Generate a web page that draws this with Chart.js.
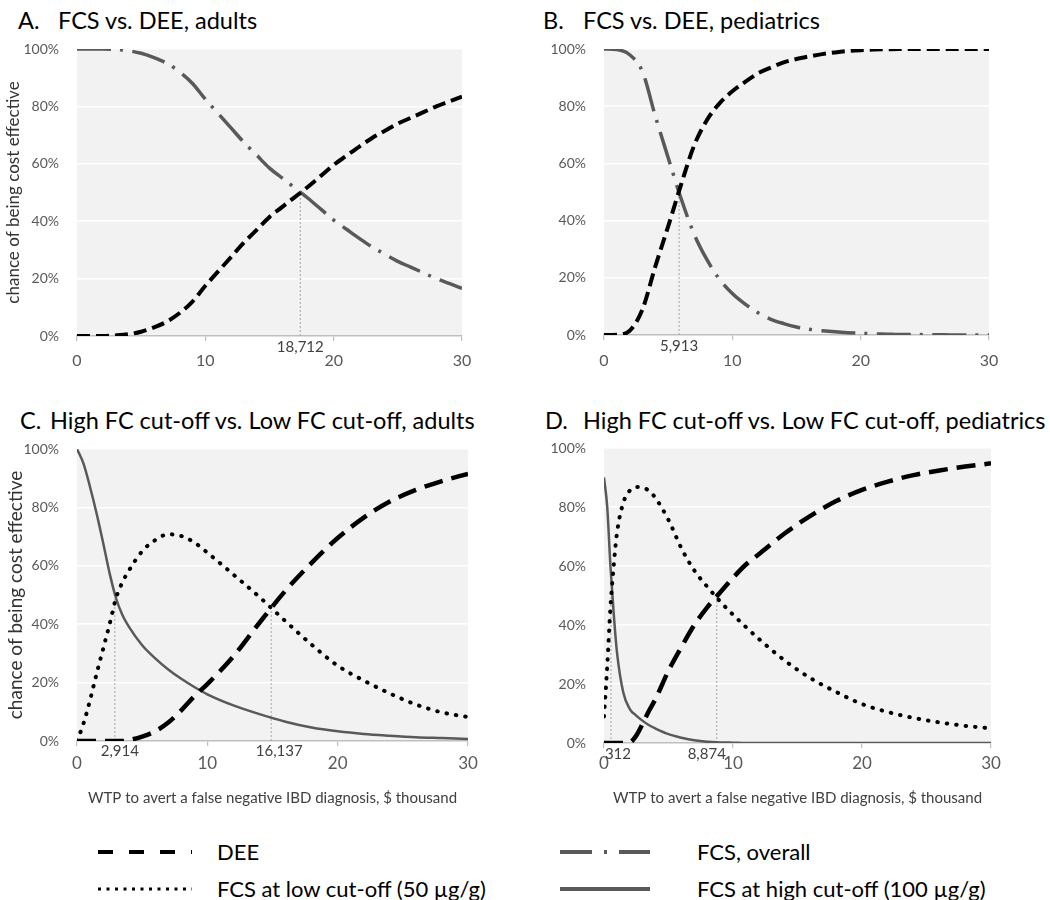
<!DOCTYPE html>
<html><head><meta charset="utf-8">
<script src="https://cdn.jsdelivr.net/npm/chart.js@4.4.1/dist/chart.umd.min.js"></script>
<style>
body{margin:0;background:#fff;width:1050px;height:900px;position:relative;overflow:hidden;font-family:Lato,'Open Sans',sans-serif;}
canvas{position:absolute;}
.t{position:absolute;font-size:23.5px;color:#000;white-space:nowrap;line-height:26px;}
.lg{position:absolute;font-size:22px;color:#000;white-space:nowrap;line-height:24px;}
svg{position:absolute;}
</style></head><body>
<div class="t" style="left:18px;top:7px">A.</div><div class="t" style="left:58px;top:7px">FCS vs. DEE, adults</div>
<div class="t" style="left:543px;top:7px">B.</div><div class="t" style="left:583px;top:7px">FCS vs. DEE, pediatrics</div>
<div class="t" style="left:20px;top:407px">C.</div><div class="t" style="left:50px;top:407px">High FC cut-off vs. Low FC cut-off, adults</div>
<div class="t" style="left:545px;top:407px">D.</div><div class="t" style="left:583px;top:407px">High FC cut-off vs. Low FC cut-off, pediatrics</div>
<canvas id="cA" width="525" height="380" style="left:0;top:0"></canvas>
<canvas id="cB" width="525" height="380" style="left:525px;top:0"></canvas>
<canvas id="cC" width="525" height="420" style="left:0;top:400px"></canvas>
<canvas id="cD" width="525" height="420" style="left:525px;top:400px"></canvas>
<svg style="left:95px;top:842px" width="100" height="60">
 <line x1="3" y1="10" x2="97" y2="10" stroke="#000" stroke-width="4" stroke-dasharray="15 16"/>
 <line x1="3" y1="47" x2="97" y2="47" stroke="#000" stroke-width="3" stroke-dasharray="3 5.5"/>
</svg>
<svg style="left:558px;top:842px" width="100" height="60">
 <line x1="2" y1="10" x2="92" y2="10" stroke="#595959" stroke-width="4" stroke-dasharray="32 12 3 12"/>
 <line x1="2" y1="47" x2="92" y2="47" stroke="#595959" stroke-width="4"/>
</svg>
<div class="lg" style="left:217px;top:840px">DEE</div>
<div class="lg" style="left:217px;top:877px">FCS at low cut-off (50 µg/g)</div>
<div class="lg" style="left:697px;top:840px">FCS, overall</div>
<div class="lg" style="left:697px;top:877px">FCS at high cut-off (100 µg/g)</div>
<script>
// ---- data ----
const xTicks = [0, 10, 20, 30];
const yTicks = [0, 20, 40, 60, 80, 100];

const xA = [0,1,2,3,4,5,6,7,8,9,10,11,12,13,14,15,16,17,18,19,20,21,22,23,24,25,26,27,28,29,30];
const deeA = [0,0,0,0.2,0.6,1.5,3,5,8,12,17.5,22.5,27.5,32.5,37,41.5,45,48.5,52,55.8,59.6,62.8,66,69,71.5,74,76,78,80,81.7,83.4];
const fcsA = [100,100,100,99.8,99.4,98.5,97,95,92,88,82.5,77.5,72.5,67.5,63,58.5,55,51.5,48,44.2,40.4,37.2,34,31,28.5,26,24,22,20,18.3,16.6];

const xB = [0,1,2,3,4,5,6,7,8,9,10,11,12,13,14,15,16,17,18,19,20,21,22,23,24,25,26,27,28,29,30];
const deeB = [0,0.1,1.5,9,24,38,52.5,66,75,81,85.2,88.5,91.5,93.5,95.3,96.5,97.4,98.2,98.8,99.3,99.6,99.8,99.9,100,100,100,100,100,100,100,100];
const fcsB = [100,99.8,98,92,76.5,62,47.8,35.5,26.5,19.5,14.5,10.8,7.8,5.5,4,2.8,2,1.5,1.1,0.8,0.6,0.4,0.3,0.2,0.2,0.1,0.1,0,0,0,0];

const xC = [0,0.5,1,1.5,2,2.5,3,3.5,4,5,6,7,8,9,10,12,14,16,18,20,22,24,26,28,30];
const deeC = [0,0,0,0,0,0,0,0,0.3,1.5,3.3,6.3,10.5,15.3,19.5,29,40.5,51.5,61,69.5,76.5,82,86,89,91.5];
const lowC = [0,6,14,23,31.5,40,49,54.5,58.5,65,68.8,70.8,70.2,68,64.5,57,49.3,41,33,25.8,20.7,16.3,12.5,9.8,8.2];
const highC = [100,95,87,78,68,57.5,48.8,43,39,32.8,28.3,24.5,21.3,18.5,16,12.2,9.2,6.6,4.6,3.3,2.4,1.8,1.3,1,0.7];

const xD = [0,0.25,0.5,0.75,1,1.5,2,2.5,3,3.5,4,5,6,7,8,9,10,11,12,14,16,18,20,22,24,26,28,30];
const deeD = [0,0,0,0,0,0,0.2,2.5,6.6,11,15,24.5,32.5,40,46,51,56,60.5,64,71,77,82,85.8,88.6,90.8,92.4,93.7,94.8];
const lowD = [9,26,46,60,71,81.5,85.6,86.8,86.5,85.5,83,75.6,66,58.5,53,48,43.5,39.3,35.3,28,22,17.3,13.2,10.5,8.5,7,5.8,5];
const highD = [90,80,60,44,31,17,11.5,9.3,7.5,6,4.9,3,1.8,0.9,0.4,0.2,0.1,0,0,0,0,0,0,0,0,0,0,0];

// threshold (crossing) markers
const crossXA = [17.4], crossYA = [50], crossLabA = ['18,712'];
const crossXB = [5.85], crossYB = [51.5], crossLabB = ['5,913'];
const crossXC = [2.9, 14.9], crossYC = [49.4, 46], crossLabC = ['2,914', '16,137'];
const crossXD = [0.54, 8.74], crossYD = [50, 49.5], crossLabD = ['312', '8,874'];

// ---- styles ----
const FONT = "Lato, 'Open Sans', sans-serif";
const pts = (xs, ys) => xs.map((x, i) => ({x, y: ys[i]}));

function dee(xs, ys, dash, w) {
  return {label: 'DEE', data: pts(xs, ys), borderColor: '#000', borderWidth: w, borderDash: dash,
    borderCapStyle: 'butt', pointRadius: 0, cubicInterpolationMode: 'monotone', order: 1};
}
function fcsAll(xs, ys) {
  return {label: 'FCS, overall', data: pts(xs, ys), borderColor: '#595959', borderWidth: 3.5,
    borderDash: [34, 9, 3, 9.5], borderCapStyle: 'butt', pointRadius: 0, cubicInterpolationMode: 'monotone', order: 2};
}
function low(xs, ys) {
  return {label: 'FCS at low cut-off (50 µg/g)', data: pts(xs, ys), borderColor: '#000', borderWidth: 4,
    borderDash: [0.5, 9], borderCapStyle: 'round', pointRadius: 0, cubicInterpolationMode: 'monotone', order: 2};
}
function high(xs, ys) {
  return {label: 'FCS at high cut-off (100 µg/g)', data: pts(xs, ys), borderColor: '#595959', borderWidth: 2.5,
    pointRadius: 0, cubicInterpolationMode: 'monotone', order: 3};
}
function refLines(cx, cy) {
  return cx.map((x, i) => ({label: 'ref', data: [{x, y: 0}, {x, y: cy[i]}], borderColor: '#a6a6a6',
    borderWidth: 1, borderDash: [2, 2], pointRadius: 0, order: 5}));
}

const bgPlugin = {
  id: 'bg',
  beforeDraw(chart) {
    const {ctx, chartArea: a} = chart;
    ctx.save(); ctx.fillStyle = '#f2f2f2';
    ctx.fillRect(a.left, a.top, a.right - a.left, a.bottom - a.top);
    ctx.restore();
  }
};
const crossLabelPlugin = {
  id: 'crossLabels',
  afterDraw(chart, args, opts) {
    const {ctx, chartArea: a, scales: {x}} = chart;
    ctx.save();
    ctx.font = '15px ' + FONT; ctx.fillStyle = '#404040';
    ctx.textAlign = 'center'; ctx.textBaseline = 'middle';
    opts.xs.forEach((v, i) => ctx.fillText(opts.labels[i], x.getPixelForValue(v) + (opts.dx ? opts.dx[i] : 0), a.bottom + opts.dy));
    ctx.restore();
  }
};

function makeChart(id, datasets, cfg) {
  return new Chart(document.getElementById(id), {
    type: 'line',
    data: {datasets},
    plugins: [bgPlugin, crossLabelPlugin],
    options: {
      responsive: false, animation: false, devicePixelRatio: 1,
      layout: {padding: {left: 0, right: cfg.right, top: cfg.top, bottom: 0}},
      plugins: {legend: {display: false}, tooltip: {enabled: false}, title: {display: false},
        crossLabels: {xs: cfg.cx, labels: cfg.cl, dy: cfg.ldy, dx: cfg.ldx}},
      scales: {
        x: {
          type: 'linear', min: 0, max: 30,
          afterBuildTicks: s => { s.ticks = xTicks.map(v => ({value: v})); },
          afterFit: s => { s.height = cfg.xh; },
          grid: {drawOnChartArea: false, drawTicks: true, tickLength: 5, color: '#bfbfbf', lineWidth: 1.2},
          border: {display: true, color: '#bfbfbf', width: 1.5},
          ticks: {padding: cfg.xpad, color: '#595959', font: {family: FONT, size: cfg.xfs}, maxRotation: 0},
          title: {display: !!cfg.xtitle, text: cfg.xtitle || '', color: '#404040',
            font: {family: FONT, size: 15}, padding: {top: 0, bottom: cfg.xtpad || 0}}
        },
        y: {
          min: 0, max: 100,
          afterBuildTicks: s => { s.ticks = yTicks.map(v => ({value: v})); },
          afterFit: s => { s.width = cfg.yw; },
          grid: {drawTicks: false, color: c => (c.tick && c.tick.value === 0) ? 'rgba(0,0,0,0)' : '#ffffff', lineWidth: 1.5},
          border: {display: false},
          ticks: {padding: 18, color: '#595959', font: {family: FONT, size: 14}, callback: v => v + '%'},
          title: {display: !!cfg.ytitle, text: cfg.ytitle || '', color: '#333',
            font: {family: FONT, size: cfg.ytfs || 15}, padding: {top: cfg.ytpad || 4, bottom: 0}}
        }
      }
    }
  });
}

makeChart('cA', [dee(xA, deeA, [13, 6], 4), fcsAll(xA, fcsA), ...refLines(crossXA, crossYA)],
  {right: 63, top: 49, xh: 44, yw: 77, xpad: 10, xfs: 16, ytitle: 'chance of being cost effective', ytfs: 17, ytpad: 3,
   cx: crossXA, cl: crossLabA, ldy: 11});
makeChart('cB', [dee(xB, deeB, [13, 6], 4), fcsAll(xB, fcsB), ...refLines(crossXB, crossYB)],
  {right: 61, top: 49, xh: 45, yw: 79, xpad: 11, xfs: 16,
   cx: crossXB, cl: crossLabB, ldy: 11});
makeChart('cC', [dee(xC, deeC, [19, 9], 4.5), low(xC, lowC), high(xC, highC), ...refLines(crossXC, crossYC)],
  {right: 57, top: 49, xh: 79, yw: 77, xpad: 7, xfs: 17, ytitle: 'chance of being cost effective', ytfs: 19, ytpad: 4,
   xtitle: 'WTP to avert a false negative IBD diagnosis, $ thousand', xtpad: 13,
   cx: crossXC, cl: crossLabC, ldy: 10, ldx: [5, 8]});
makeChart('cD', [dee(xD, deeD, [19, 9], 4.5), low(xD, lowD), high(xD, highD), ...refLines(crossXD, crossYD)],
  {right: 59, top: 48, xh: 77, yw: 79, xpad: 5, xfs: 17,
   xtitle: 'WTP to avert a false negative IBD diagnosis, $ thousand', xtpad: 13,
   cx: crossXD, cl: crossLabD, ldy: 11, ldx: [7, -10]});
</script>
</body></html>
